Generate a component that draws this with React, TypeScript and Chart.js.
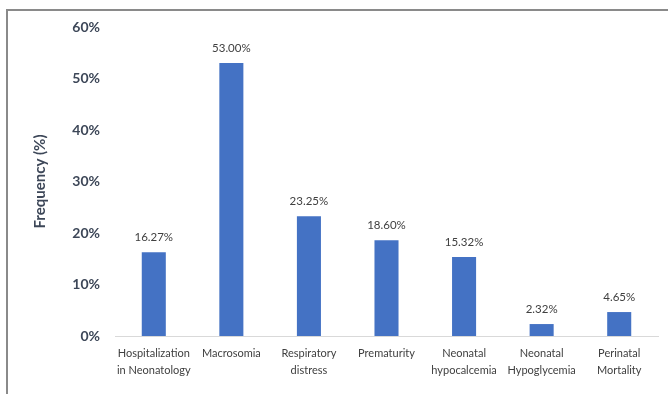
import React, { useEffect, useRef } from "react";
import { Chart, registerables } from "chart.js";

Chart.register(...registerables);

const categories: string[][] = [
  ["Hospitalization", "in Neonatology"],
  ["Macrosomia"],
  ["Respiratory", "distress"],
  ["Prematurity"],
  ["Neonatal", "hypocalcemia"],
  ["Neonatal", "Hypoglycemia"],
  ["Perinatal", "Mortality"],
];

const frequencies: number[] = [16.27, 53.0, 23.25, 18.6, 15.32, 2.32, 4.65];

const yTicks: number[] = [0, 10, 20, 30, 40, 50, 60];

const axisTitle = "Frequency (%)";

const FONT = "Lato, 'Open Sans', sans-serif";
const TEXT = "#404040";
const AXIS_TEXT = "#3d4758";
const BAR = "#4472C4";

// Writes the value above every bar and the rotated y-axis title.
const annotate = {
  id: "annotate",
  afterDatasetsDraw(chart: any) {
    const ctx = chart.ctx;
    const meta = chart.getDatasetMeta(0);
    const values = chart.data.datasets[0].data as number[];
    ctx.save();
    ctx.fillStyle = TEXT;
    ctx.font = `11.5px ${FONT}`;
    ctx.textAlign = "center";
    ctx.textBaseline = "middle";
    meta.data.forEach((bar: any, i: number) => {
      ctx.fillText(`${values[i].toFixed(2)}%`, bar.x, bar.y - 15);
    });
    const area = chart.chartArea;
    ctx.translate(40, (area.top + area.bottom) / 2);
    ctx.rotate(-Math.PI / 2);
    ctx.font = `bold 15px ${FONT}`;
    ctx.fillStyle = AXIS_TEXT;
    ctx.fillText(axisTitle, 0, 0);
    ctx.restore();
  },
};

export default function App() {
  const canvasRef = useRef<HTMLCanvasElement | null>(null);

  useEffect(() => {
    const canvas = canvasRef.current;
    if (!canvas) return;
    const chart = new Chart(canvas, {
      type: "bar",
      data: {
        labels: categories,
        datasets: [
          {
            data: frequencies,
            backgroundColor: BAR,
            borderWidth: 0,
            barPercentage: 0.31,
            categoryPercentage: 1,
          },
        ],
      },
      options: {
        animation: false,
        responsive: false,
        devicePixelRatio: 1,
        layout: { padding: { top: 27, right: 10, left: 0, bottom: 0 } },
        plugins: {
          legend: { display: false },
          tooltip: { enabled: false },
          title: { display: false },
        },
        scales: {
          x: {
            grid: { display: false, drawTicks: false },
            border: { display: true, color: "#d9d9d9", width: 1 },
            ticks: {
              color: TEXT,
              font: { family: FONT, size: 11, lineHeight: 1.55 },
              padding: 9,
              maxRotation: 0,
              autoSkip: false,
            },
            afterFit(scale: any) {
              scale.height = 58;
            },
          },
          y: {
            min: 0,
            max: 60,
            afterBuildTicks(scale: any) {
              scale.ticks = yTicks.map((v) => ({ value: v }));
            },
            grid: { display: false, drawTicks: false },
            border: { display: false },
            ticks: {
              color: AXIS_TEXT,
              font: { family: FONT, size: 14, weight: "bold" },
              padding: 15,
              callback: (v: any) => `${v}%`,
            },
            afterFit(scale: any) {
              scale.width = 115;
            },
          },
        },
      },
      plugins: [annotate],
    });
    return () => chart.destroy();
  }, []);

  return (
    <div
      style={{
        position: "fixed",
        left: 0,
        top: 0,
        width: 668,
        height: 394,
        background: "#ffffff",
        overflow: "hidden",
      }}
    >
      <div
        style={{
          position: "absolute",
          left: 6,
          top: 9,
          width: 700,
          height: 420,
          borderTop: "2px solid #8a8a8a",
          borderLeft: "2px solid #8a8a8a",
        }}
      />
      <canvas
        ref={canvasRef}
        width={668}
        height={394}
        style={{ position: "absolute", left: 0, top: 0 }}
      />
    </div>
  );
}
